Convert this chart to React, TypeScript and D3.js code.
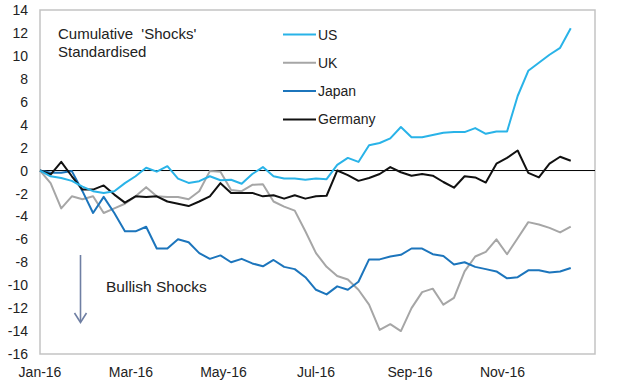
import { useRef, useEffect } from "react";
import * as d3 from "d3";

// weekly observations starting 1 Jan 2016
const startDate = new Date(2016, 0, 1);
const weeks = 51;

const usValues = [
  0, -0.5, -0.65, -0.9, -1.4, -1.8, -1.95, -1.8, -1.1, -0.5,
  0.24, -0.1, 0.38, -0.7, -1.08, -0.93, -0.5, -0.85, -0.8, -1.15,
  -0.3, 0.3, -0.5, -0.7, -0.7, -0.8, -0.7, -0.75, 0.5, 1.1,
  0.75, 2.2, 2.4, 2.8, 3.8, 2.9, 2.9, 3.1, 3.3, 3.35,
  3.35, 3.7, 3.2, 3.4, 3.4, 6.5, 8.7, 9.4, 10.1, 10.7,
  12.4,
];

const ukValues = [
  0, -1.1, -3.3, -2.25, -2.5, -2.25, -3.7, -3.3, -2.9, -2.25,
  -1.45, -2.25, -2.3, -2.3, -2.5, -1.8, -0.05, -0.1, -1.7, -1.8,
  -1.25, -1.2, -2.7, -3.15, -3.5, -5.3, -7.2, -8.4, -9.2, -9.5,
  -10.4, -11.7, -13.9, -13.4, -14.0, -12.0, -10.6, -10.3, -11.7, -11.1,
  -8.8, -7.5, -7.1, -6.0, -7.3, -5.9, -4.5, -4.7, -5.0, -5.4,
  -4.9,
];

const japanValues = [
  0, -0.2, -0.2, -0.05, -1.8, -3.7, -2.3, -3.7, -5.3, -5.3,
  -4.9, -6.8, -6.8, -6.0, -6.25, -7.2, -7.7, -7.4, -8.0, -7.7,
  -8.1, -8.35, -7.8, -8.4, -8.6, -9.3, -10.4, -10.8, -10.1, -10.4,
  -9.7, -7.75, -7.75, -7.5, -7.35, -6.8, -6.8, -7.3, -7.45, -8.2,
  -8.0, -8.4, -8.6, -8.8, -9.4, -9.3, -8.7, -8.7, -8.9, -8.8,
  -8.5,
];

const germanyValues = [
  0, -0.35, 0.76, -0.5, -1.66, -1.66, -1.3, -2.1, -2.8, -2.25,
  -2.3, -2.25, -2.7, -2.9, -3.1, -2.7, -2.25, -1.1, -1.95, -1.95,
  -1.95, -2.25, -2.15, -2.45, -2.15, -2.45, -2.25, -2.2, 0, -0.4,
  -0.9, -0.65, -0.3, 0.3, -0.15, -0.45, -0.3, -0.45, -1.0, -1.5,
  -0.5, -0.6, -1.05, 0.6, 1.1, 1.75, -0.2, -0.6, 0.6, 1.2,
  0.85,
];

const seriesNames = ["US", "UK", "Japan", "Germany"];
const seriesColors = ["#29b3e8", "#a6a6a6", "#1c75bc", "#111111"];
const yTicks = [14, 12, 10, 8, 6, 4, 2, 0, -2, -4, -6, -8, -10, -12, -14, -16];

const FONT = "'Liberation Sans', Arial, sans-serif";

function ShocksChart() {
  const svgRef = useRef<SVGSVGElement>(null);

  useEffect(() => {
    drawChart();
  }, []);

  function drawChart() {
    if (!svgRef.current) return;
    const svg = d3.select(svgRef.current);
    svg.selectAll("*").remove();

    const left = 40;
    const right = 595;
    const top = 10;
    const bottom = 354;

    const dates = d3.range(weeks).map((i) => d3.timeDay.offset(startDate, i * 7));

    const x = d3
      .scaleTime()
      .domain([new Date(2016, 0, 1), new Date(2017, 0, 1)])
      .range([left, right]);
    const y = d3.scaleLinear().domain([-16, 14]).range([bottom, top]);

    // plot frame
    svg
      .append("rect")
      .attr("x", left)
      .attr("y", top)
      .attr("width", right - left)
      .attr("height", bottom - top)
      .attr("fill", "none")
      .attr("stroke", "#c3c3c3")
      .attr("stroke-width", 1.5);

    // zero line
    svg
      .append("line")
      .attr("x1", left)
      .attr("x2", right)
      .attr("y1", y(0))
      .attr("y2", y(0))
      .attr("stroke", "#000")
      .attr("stroke-width", 1);

    // y labels
    svg
      .append("g")
      .selectAll("text")
      .data(yTicks)
      .join("text")
      .attr("x", 28)
      .attr("y", (d) => y(d))
      .attr("dy", "0.36em")
      .attr("text-anchor", "end")
      .attr("font-family", FONT)
      .attr("font-size", 14)
      .attr("fill", "#222")
      .text((d) => String(d));

    // x labels
    const fmt = d3.timeFormat("%b-%y");
    svg
      .append("g")
      .selectAll("text")
      .data(x.ticks(d3.timeMonth.every(2)!).filter((d) => d.getFullYear() === 2016))
      .join("text")
      .attr("x", (d) => x(d))
      .attr("y", 376.5)
      .attr("text-anchor", "middle")
      .attr("font-family", FONT)
      .attr("font-size", 14)
      .attr("fill", "#222")
      .text((d) => fmt(d));

    const allValues = [usValues, ukValues, japanValues, germanyValues];
    const line = d3
      .line<number>()
      .x((_, i) => x(dates[i]))
      .y((d) => y(d));

    // draw UK first so the others sit on top
    const order = [1, 2, 3, 0];
    order.forEach((k) => {
      svg
        .append("path")
        .datum(allValues[k])
        .attr("fill", "none")
        .attr("stroke", seriesColors[k])
        .attr("stroke-width", 2)
        .attr("stroke-linejoin", "round")
        .attr("d", line);
    });

    // legend
    const legend = svg.append("g");
    seriesNames.forEach((name, k) => {
      const ly = 34.5 + k * 28.3;
      legend
        .append("line")
        .attr("x1", 283)
        .attr("x2", 316)
        .attr("y1", ly)
        .attr("y2", ly)
        .attr("stroke", seriesColors[k])
        .attr("stroke-width", 2);
      legend
        .append("text")
        .attr("x", 318)
        .attr("y", ly)
        .attr("dy", "0.36em")
        .attr("font-family", FONT)
        .attr("font-size", 14)
        .attr("fill", "#222")
        .text(name);
    });

    // annotations
    const title = svg
      .append("text")
      .attr("font-family", FONT)
      .attr("font-size", 15)
      .attr("fill", "#222");
    title.append("tspan").attr("x", 58).attr("y", 38.5).text("Cumulative  'Shocks'").attr("xml:space", "preserve");
    title.append("tspan").attr("x", 58).attr("y", 57).text("Standardised");

    svg
      .append("text")
      .attr("x", 106)
      .attr("y", 292)
      .attr("font-family", FONT)
      .attr("font-size", 15.5)
      .attr("fill", "#222")
      .text("Bullish Shocks");

    const arrowColor = "#6f7fa3";
    svg
      .append("line")
      .attr("x1", 80.5)
      .attr("x2", 80.5)
      .attr("y1", 255)
      .attr("y2", 322)
      .attr("stroke", arrowColor)
      .attr("stroke-width", 1.6);
    svg
      .append("path")
      .attr("d", "M74.5,313 L80.5,322.5 L86.5,313")
      .attr("fill", "none")
      .attr("stroke", arrowColor)
      .attr("stroke-width", 1.6);
  }

  return (
    <svg
      ref={svgRef}
      width={620}
      height={384}
      style={{ position: "absolute", left: 0, top: 0, background: "#fff" }}
    />
  );
}

export default function App() {
  return <ShocksChart />;
}
